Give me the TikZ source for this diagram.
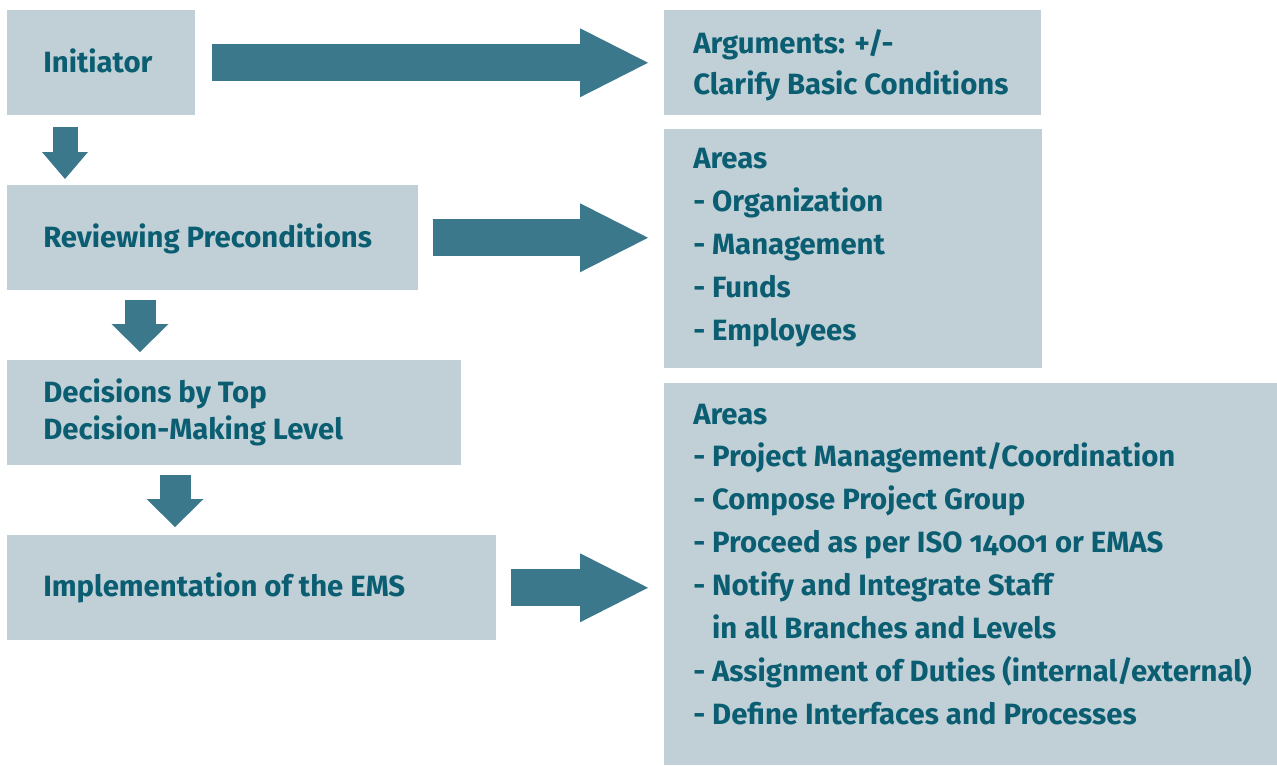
\documentclass[tikz,border=0pt]{standalone}
\usepackage{fontspec}
\setmainfont[RawFeature=+onum]{Fira Sans}
\usetikzlibrary{arrows.meta,positioning,calc}
\definecolor{boxgray}{HTML}{C1D0D7}
\definecolor{arrowteal}{HTML}{3C788C}
\definecolor{textteal}{HTML}{0B5E72}
\newcommand{\pix}{0.75pt}
\tikzset{
  box/.style={fill=boxgray, anchor=north west, inner sep=0pt},
  txt/.style={text=textteal, font=\fontsize{22}{32}\selectfont\bfseries, anchor=base west, inner sep=0pt},
  bigarrow/.style={draw=arrowteal, line width=37*\pix, -{Triangle[length=68*\pix, width=69*\pix, line width=0pt]}},
  downarrow/.style={draw=arrowteal, line width=31*\pix, -{Triangle[length=28*\pix, width=57*\pix, line width=0pt]}},
}

\begin{document}
\begin{tikzpicture}[x=\pix, y=-\pix]
	\useasboundingbox (0,0) rectangle (1277,765);
	% boxes
	\node[box, minimum width=188*\pix, minimum height=105*\pix] (init) at (7,10) {};
	\node[box, minimum width=377*\pix, minimum height=105*\pix] (args) at (664,10) {};
	\node[box, minimum width=411*\pix, minimum height=105*\pix] (review) at (7,185) {};
	\node[box, minimum width=378*\pix, minimum height=239*\pix] (areasA) at (664,129) {};
	\node[box, minimum width=454*\pix, minimum height=105*\pix] (decide) at (7,360) {};
	\node[box, minimum width=489*\pix, minimum height=105*\pix] (impl) at (7,535) {};
	\node[box, minimum width=613*\pix, minimum height=382*\pix] (areasB) at (664,383) {};
	% texts
	\node[txt] (initT) at (43,72) {Initiator};
	\node[txt] (argsT1) at (693,53) {Arguments: +/-};
	\node[txt] (argsT2) at (693,94) {Clarify Basic Conditions};
	\node[txt] (reviewT) at (43,247) {Reviewing Preconditions};
	\node[txt] (decideT1) at (43,402) {Decisions by Top};
	\node[txt] (decideT2) at (43,439) {Decision-Making Level};
	\node[txt] (implT) at (43,596) {Implementation of the EMS};
	\foreach \t [count=\i from 0] in {Areas, - Organization, - Management, - Funds, - Employees}
		\node[txt] (areasAT\i) at (693,168+43*\i) {\t};
	\foreach \t [count=\i from 0] in {Areas, - Project Management/Coordination, - Compose Project Group,
		- Proceed as per ISO 14001 or EMAS, - Notify and Integrate Staff,
		\hphantom{- }in all Branches and Levels, - Assignment of Duties (internal/external),
		- Define Interfaces and Processes}
		\node[txt] (areasBT\i) at (693,424+42.86*\i) {\t};
	% arrows
	\draw[bigarrow] ([xshift=16*\pix]init.east) -- ([xshift=-16*\pix]args.west);
	\draw[bigarrow] ([xshift=14*\pix]review.east) -- ($(review.east -| areasA.west)+(-16,0)$);
	\draw[bigarrow] ([xshift=14*\pix]impl.east) -- ($(impl.east -| areasB.west)+(-16,0)$);
	\draw[downarrow, line width=25*\pix, -{Triangle[length=27*\pix, width=46*\pix, line width=0pt]}]
		($(init.south west)+(58,11)$) -- ($(review.north west)+(58,-6)$);
	\draw[downarrow] ($(review.south west)+(133,9)$) -- ($(decide.north west)+(133,-8)$);
	\draw[downarrow] ($(decide.south west)+(168,9)$) -- ($(impl.north west)+(168,-8)$);
\end{tikzpicture}
\end{document}
